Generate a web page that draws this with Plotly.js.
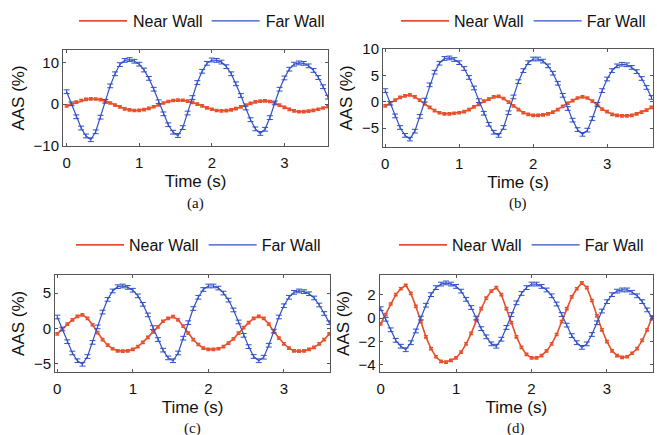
<!DOCTYPE html>
<html>
<head>
<meta charset="utf-8">
<script src="https://cdn.plot.ly/plotly-3.0.1.min.js"></script>
<style>html,body{margin:0;padding:0;background:#fff;}#chart{width:657px;height:435px;}</style>
</head>
<body>
<div id="chart"></div>
<script>
// Time samples (s)
const time = [0,0.067,0.133,0.2,0.267,0.333,0.4,0.467,0.533,0.6,0.667,0.733,0.8,0.867,0.933,1,1.067,1.133,1.2,1.267,1.333,1.4,1.467,1.533,1.6,1.667,1.733,1.8,1.867,1.933,2,2.067,2.133,2.2,2.267,2.333,2.4,2.467,2.533,2.6,2.667,2.733,2.8,2.867,2.933,3,3.067,3.133,3.2,3.267,3.333,3.4,3.467,3.533,3.6];

// Panel (a)
const nearA = [-0.4,0.0,0.5,0.9,1.15,1.3,1.25,1.1,0.75,0.3,-0.2,-0.65,-1.1,-1.35,-1.5,-1.45,-1.3,-1.0,-0.6,-0.15,0.3,0.65,0.9,1.0,0.95,0.75,0.45,0.05,-0.4,-0.85,-1.2,-1.5,-1.6,-1.55,-1.35,-1.05,-0.65,-0.2,0.2,0.55,0.75,0.8,0.65,0.3,-0.2,-0.75,-1.25,-1.6,-1.8,-1.75,-1.65,-1.45,-1.2,-0.9,-0.6];
const farA = [3.0,0.1,-3.0,-5.7,-7.6,-8.5,-6.6,-3.1,0.7,4.4,7.3,9.5,10.5,10.7,10.3,9.6,8.2,6.2,3.6,0.6,-2.3,-4.9,-6.7,-7.5,-5.6,-2.1,1.6,5.2,7.9,9.8,10.6,10.5,10.1,9.0,7.3,4.9,2.1,-0.9,-3.7,-5.9,-7.0,-6.0,-3.2,0.3,3.6,6.3,8.4,9.6,9.9,9.8,9.2,8.1,6.4,4.2,1.7];

// Panel (b)
const nearB = [-0.8,-0.3,0.3,0.8,1.1,1.3,0.9,0.3,-0.4,-1.1,-1.7,-2.1,-2.3,-2.3,-2.2,-2.1,-1.9,-1.5,-1.0,-0.5,0.1,0.5,0.9,1.0,0.6,-0.1,-0.8,-1.5,-2.1,-2.4,-2.6,-2.6,-2.5,-2.3,-2.0,-1.5,-0.9,-0.3,0.2,0.7,0.9,0.7,0.1,-0.7,-1.4,-1.9,-2.4,-2.6,-2.7,-2.7,-2.6,-2.3,-2.0,-1.6,-1.1];
const farB = [2.1,-0.3,-2.7,-4.9,-6.4,-7.1,-5.6,-2.8,0.3,3.2,5.6,7.3,8.2,8.3,8.0,7.4,6.3,4.6,2.6,0.2,-2.2,-4.3,-5.8,-6.4,-4.9,-2.1,0.9,3.8,5.9,7.4,8.1,8.1,7.7,6.8,5.4,3.5,1.2,-1.3,-3.5,-5.3,-6.2,-5.4,-3.2,-0.5,2.1,4.3,5.9,6.8,7.1,7.0,6.5,5.7,4.4,2.7,0.8];

// Panel (c)
const nearC = [-0.8,-0.1,0.6,1.2,1.7,1.9,1.4,0.5,-0.6,-1.6,-2.4,-2.9,-3.2,-3.25,-3.2,-3.0,-2.6,-2.0,-1.3,-0.5,0.2,1.0,1.4,1.65,1.2,0.3,-0.7,-1.6,-2.3,-2.8,-3.0,-3.0,-2.9,-2.6,-2.1,-1.5,-0.7,0.1,0.8,1.4,1.7,1.4,0.6,-0.5,-1.4,-2.2,-2.8,-3.2,-3.25,-3.2,-3.0,-2.7,-2.2,-1.6,-0.8];
const farC = [1.6,-0.1,-1.9,-3.5,-4.6,-5.1,-4.0,-2.0,0.2,2.3,4.1,5.3,5.9,6.0,5.8,5.4,4.6,3.4,1.9,0.1,-1.6,-3.1,-4.2,-4.6,-3.5,-1.4,0.8,2.8,4.4,5.5,6.0,6.0,5.7,5.0,4.0,2.6,0.9,-1.0,-2.6,-4.0,-4.6,-4.1,-2.4,-0.4,1.6,3.2,4.4,5.1,5.3,5.2,4.9,4.3,3.3,2.1,0.8];

// Panel (d)
const nearD = [-0.5,0.3,1.2,2.0,2.5,2.8,2.1,1.0,-0.3,-1.6,-2.6,-3.3,-3.7,-3.75,-3.6,-3.4,-2.9,-2.2,-1.3,-0.2,0.8,1.7,2.3,2.6,2.0,0.8,-0.4,-1.6,-2.5,-3.1,-3.4,-3.4,-3.2,-2.8,-2.2,-1.4,-0.3,0.8,1.8,2.5,3.0,2.6,1.5,0.2,-1.0,-2.0,-2.8,-3.2,-3.35,-3.3,-3.0,-2.6,-1.9,-1.0,0.1];
const farD = [0.8,-0.1,-1.0,-1.9,-2.4,-2.7,-2.1,-1.1,0.0,1.1,2.0,2.6,2.9,3.0,2.9,2.7,2.3,1.6,0.9,0.0,-0.9,-1.6,-2.2,-2.4,-1.8,-0.8,0.3,1.3,2.1,2.6,2.9,2.9,2.7,2.4,1.9,1.2,0.3,-0.6,-1.5,-2.1,-2.5,-2.2,-1.4,-0.4,0.6,1.4,2.0,2.3,2.4,2.4,2.2,1.9,1.4,0.7,0.0];

const seriesNames = ['Near Wall', 'Far Wall'];
const panelLabels = ['(a)', '(b)', '(c)', '(d)'];
const yTicks = [[-10, 0, 10], [-5, 0, 5, 10], [-5, 0, 5], [-4, -2, 0, 2]];
const xTicks = [0, 1, 2, 3];

const RED = '#e6512c';
const BLUE = '#3050c6';

const panels = [
  {near: nearA, far: farA, err: [0.25, 0.45], xd: [0.0959, 0.4992], yd: [0.6644, 0.8851], xr: [-0.05, 3.6], yr: [-10, 13], lx: 75, ly: 21},
  {near: nearB, far: farB, err: [0.2, 0.35], xd: [0.5830, 0.9939], yd: [0.6621, 0.8874], xr: [-0.03, 3.62], yr: [-8.6, 10], lx: 396, ly: 21},
  {near: nearC, far: farC, err: [0.15, 0.26], xd: [0.0837, 0.5023], yd: [0.1448, 0.3685], xr: [-0.03, 3.61], yr: [-6.2, 7.6], lx: 71, ly: 245},
  {near: nearD, far: farD, err: [0.09, 0.16], xd: [0.5779, 0.9939], yd: [0.1448, 0.3685], xr: [-0.013, 3.61], yr: [-4.6, 3.7], lx: 394, ly: 245}
];

const W = 657, H = 435;
const traces = [];
const layout = {
  width: W, height: H,
  margin: {l: 0, r: 0, t: 0, b: 0},
  paper_bgcolor: '#ffffff', plot_bgcolor: '#ffffff',
  font: {family: 'Liberation Sans, Arial, sans-serif', size: 14, color: '#111'},
  showlegend: true,
  annotations: []
};

panels.forEach((p, i) => {
  const n = i + 1;
  const sfx = n === 1 ? '' : String(n);
  const lg = n === 1 ? 'legend' : 'legend' + n;
  traces.push({
    x: time, y: p.near, type: 'scatter', mode: 'lines', name: seriesNames[0],
    xaxis: 'x' + sfx, yaxis: 'y' + sfx, legend: lg,
    line: {color: RED, width: 1.6},
    error_y: {type: 'constant', value: p.err[0], width: 2, thickness: 1.6, color: RED}
  });
  traces.push({
    x: time, y: p.far, type: 'scatter', mode: 'lines', name: seriesNames[1],
    xaxis: 'x' + sfx, yaxis: 'y' + sfx, legend: lg,
    line: {color: BLUE, width: 1.2},
    error_y: {type: 'constant', value: p.err[1], width: 3, thickness: 1, color: BLUE}
  });
  layout['xaxis' + sfx] = {
    domain: p.xd, anchor: 'y' + sfx, range: p.xr,
    tickvals: xTicks, ticks: 'inside', ticklen: 3, tickcolor: '#555',
    showline: true, linecolor: '#555', linewidth: 1, mirror: 'ticks',
    showgrid: false, zeroline: false, ticklabelstandoff: 3,
    tickfont: {size: 15, color: '#111'},
    title: {text: 'Time (s)', font: {size: 17, color: '#111'}, standoff: 5}
  };
  layout['yaxis' + sfx] = {
    domain: p.yd, anchor: 'x' + sfx, range: p.yr,
    tickvals: yTicks[i], ticks: 'inside', ticklen: 3, tickcolor: '#555',
    showline: true, linecolor: '#555', linewidth: 1, mirror: 'ticks',
    showgrid: false, zeroline: false,
    tickfont: {size: 15, color: '#111'},
    title: {text: 'AAS (%)', font: {size: 17, color: '#111'}, standoff: 4}
  };
  layout[lg] = {
    orientation: 'h', x: p.lx / W, xanchor: 'left', y: 1 - p.ly / H, yanchor: 'middle',
    font: {size: 16, color: '#111'}, itemwidth: 48, bgcolor: 'rgba(0,0,0,0)', borderwidth: 0,
    itemclick: false, itemdoubleclick: false
  };
  layout.annotations.push({
    text: panelLabels[i], xref: 'x' + sfx + ' domain', yref: 'paper',
    x: 0.5, y: 1 - (i < 2 ? 203 : 428) / H, xanchor: 'center', yanchor: 'middle',
    showarrow: false, font: {family: 'Liberation Serif, Times New Roman, serif', size: 15, color: '#111'}
  });
});

Plotly.newPlot('chart', traces, layout, {staticPlot: true, displayModeBar: false}).then(gd => {
  // lengthen legend line samples (48 px, ending 6 px before the label) like the original figure
  gd.querySelectorAll('.legend .traces').forEach(item => {
    const txt = item.querySelector('.legendtext');
    const path = item.querySelector('.legendlines path');
    if (!txt || !path) return;
    const d = path.getAttribute('d') || '';
    const m = d.match(/^M([-\d.]+),([-\d.]+)h([-\d.]+)$/);
    if (!m) return;
    const tl = txt.getBoundingClientRect().left;
    const pl = path.getBoundingClientRect().left;
    const x0 = parseFloat(m[1]);
    const len = 48;
    const newStart = x0 + (tl - 6 - len - pl);
    path.setAttribute('d', 'M' + newStart + ',' + m[2] + 'h' + len);
  });
});
</script>
</body>
</html>
